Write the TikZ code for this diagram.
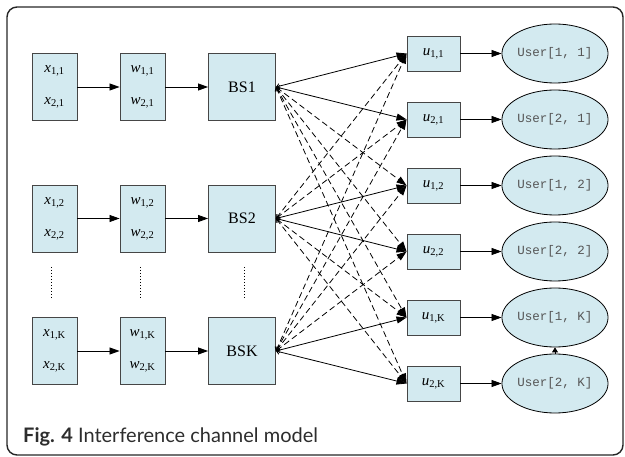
\documentclass[tikz,border=0pt]{standalone}
\usepackage{fontspec}
\setmainfont{Liberation Serif}
\newfontfamily\capfont{Lato}
\newfontfamily\userfont{Liberation Mono}
\usetikzlibrary{arrows.meta,shapes.geometric}
\definecolor{boxfill}{RGB}{211,234,240}
\definecolor{boxline}{RGB}{70,70,70}
\definecolor{usertext}{RGB}{85,85,85}
\definecolor{captext}{RGB}{45,45,45}
\tikzset{
  sbox/.style={draw=boxline, fill=boxfill, line width=0.9pt, minimum width=45pt, minimum height=67pt, inner sep=0pt, align=center, font=\fontsize{15}{18}\selectfont},
  bsbox/.style={draw=boxline, fill=boxfill, line width=0.9pt, minimum width=67pt, minimum height=67pt, inner sep=0pt, font=\fontsize{16}{18}\selectfont},
  ubox/.style={draw=boxline, fill=boxfill, line width=0.9pt, minimum width=53pt, minimum height=35pt, inner sep=0pt, font=\fontsize{15}{18}\selectfont},
  userell/.style={ellipse, draw=black, fill=boxfill, line width=0.8pt, minimum width=103pt, minimum height=59pt, inner sep=0pt, text=usertext, font=\userfont\fontsize{12.5}{14}\selectfont},
  arr/.style={line width=0.8pt, -{Triangle[length=10pt,width=7pt]}},
  solidlink/.style={line width=0.8pt, {Straight Barb[length=3pt,width=5pt]}-{Triangle[length=10pt,width=7pt]}},
  dashlink/.style={solidlink, dash pattern=on 6pt off 3.5pt},
  vdots/.style={line width=0.9pt, dash pattern=on 1pt off 2pt}
}
\newcommand{\vx}[1]{\textit{x}\textsubscript{#1}}
\newcommand{\vw}[1]{\textit{w}\textsubscript{#1}}
\newcommand{\vu}[1]{\textit{u}\textsubscript{#1}}
\begin{document}
\begin{tikzpicture}[x=1pt,y=-1pt]
\useasboundingbox (0,0) rectangle (625,457);
\draw[line width=1.4pt, draw=black!85, rounded corners=10pt] (7,7) rectangle (623,455);

% left columns
\node[sbox] (x1) at (54.5,87) {\vx{1,1}\\[14pt]\vx{2,1}};
\node[sbox] (w1) at (142.5,87) {\vw{1,1}\\[14pt]\vw{2,1}};
\node[bsbox] (bs1) at (242,87) {BS1};
\node[sbox] (x2) at (54.5,218.5) {\vx{1,2}\\[14pt]\vx{2,2}};
\node[sbox] (w2) at (142.5,218.5) {\vw{1,2}\\[14pt]\vw{2,2}};
\node[bsbox] (bs2) at (242,218.5) {BS2};
\node[sbox] (xK) at (54.5,351) {\vx{1,K}\\[14pt]\vx{2,K}};
\node[sbox] (wK) at (142.5,351) {\vw{1,K}\\[14pt]\vw{2,K}};
\node[bsbox] (bsK) at (242,351) {BSK};

\foreach \r in {1,2,K}{
  \draw[arr] (x\r) -- (w\r);
  \draw[arr] (w\r) -- (bs\r);
}

% vertical dots
\coordinate (d1a) at (51,267); \coordinate (d1b) at (51,298);
\coordinate (d2a) at (140,267); \coordinate (d2b) at (140,298);
\coordinate (d3a) at (244,267); \coordinate (d3b) at (244,298);
\draw[vdots] (d1a) -- (d1b);
\draw[vdots] (d2a) -- (d2b);
\draw[vdots] (d3a) -- (d3b);

% u boxes
\node[ubox] (u11) at (433.5,53.5) {\vu{1,1}};
\node[ubox] (u21) at (433.5,119.5) {\vu{2,1}};
\node[ubox] (u12) at (433.5,185.5) {\vu{1,2}};
\node[ubox] (u22) at (433.5,251.5) {\vu{2,2}};
\node[ubox] (u1K) at (433.5,317.5) {\vu{1,K}};
\node[ubox] (u2K) at (433.5,383.5) {\vu{2,K}};

% users
\node[userell] (U11) at (555,53.5) {User[1, 1]};
\node[userell] (U21) at (555,119.5) {User[2, 1]};
\node[userell] (U12) at (555,185.5) {User[1, 2]};
\node[userell] (U22) at (555,251.5) {User[2, 2]};
\node[userell] (U1K) at (555,317.5) {User[1, K]};
\node[userell] (U2K) at (555,383.5) {User[2, K]};

\foreach \u in {11,21,12,22,1K,2K}{
  \draw[arr] (u\u) -- (U\u);
}
\draw[line width=0.8pt, -{Triangle[length=5pt,width=6pt]}] (U2K.north) -- (U1K.south);

% dashed interference links
\foreach \t in {12,22,1K,2K}{ \draw[dashlink] (bs1.east) -- (u\t.west); }
\foreach \t in {11,21,1K,2K}{ \draw[dashlink] (bs2.east) -- (u\t.west); }
\foreach \t in {11,21,12,22}{ \draw[dashlink] (bsK.east) -- (u\t.west); }
% solid direct links
\draw[solidlink] (bs1.east) -- (u11.west);
\draw[solidlink] (bs1.east) -- (u21.west);
\draw[solidlink] (bs2.east) -- (u12.west);
\draw[solidlink] (bs2.east) -- (u22.west);
\draw[solidlink] (bsK.east) -- (u1K.west);
\draw[solidlink] (bsK.east) -- (u2K.west);

% caption
\node[anchor=base west, inner sep=0pt, text=captext, font=\capfont\fontsize{20}{22}\selectfont] (cap) at (23,443) {\textbf{Fig. 4} Interference channel model};
\end{tikzpicture}
\end{document}
